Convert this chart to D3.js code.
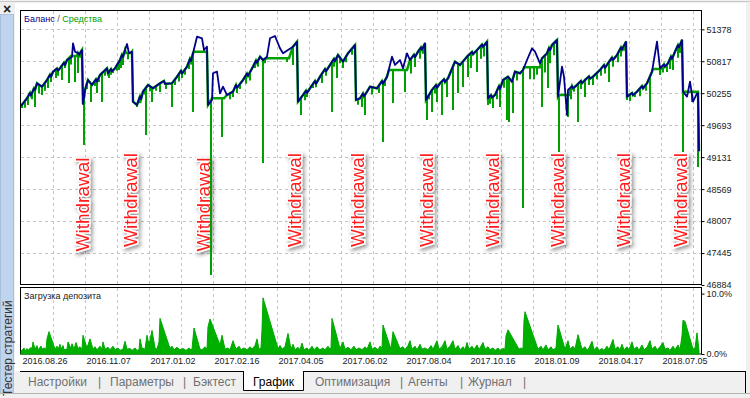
<!DOCTYPE html>
<html>
<head>
<meta charset="utf-8">
<script src="https://cdnjs.cloudflare.com/ajax/libs/d3/7.8.5/d3.min.js"></script>
<style>
body { margin: 0; background: #f0f0f0; }
svg { display: block; font-family: "Liberation Sans", Arial, sans-serif; }
</style>
</head>
<body>
<div id="chart"></div>
<script>
// deal index / balance value
var balance = [
  [0,50030],[6,50165],[9,50260],[10,50215],[13,50340],[14,50310],[16,50429],[21,50369],[26,50487],[29,50580],[30,50545],[32,50633],[36,50690],[37,50650],[39,50693],[43,50790],[44,50750],[46,50838],[51,50896],[52,51132],[54,50984],[57,50960],[58,50930],[61,51014],
  [62,50065],[64,50311],[67,50487],[71,50399],[75,50500],[76,50460],[79,50575],[86,50693],[87,50605],[90,50680],[91,50640],[94,50693],[99,50838],[101,50930],[102,50890],[104,51014],[106,51120],[108,50956],[111,50984],
  [112,50106],[116,50048],[119,50200],[120,50150],[122,50282],[127,50399],[132,50341],[139,50429],[143,50470],[144,50420],[151,50429],[156,50545],[160,50650],[161,50600],[166,50721],[169,50860],[170,50820],[172,50956],[176,51248],[181,51220],[183,51014],[186,51072],
  [187,50048],[191,50136],[192,50605],[196,50633],[199,50253],[202,50369],[206,50223],[212,50282],[215,50400],[216,50350],[222,50487],[226,50600],[227,50560],[232,50721],[235,50830],[236,50790],[239,50896],[242,50838],[246,50896],[249,51220],[254,51260],[259,51044],[262,50956],[272,51072],[276,51160],
  [277,50106],[282,50223],[285,50300],[286,50260],[289,50341],[294,50470],[295,50420],[299,50545],[304,50680],[305,50640],[309,50751],[313,50860],[314,50820],[317,50927],[322,50809],[327,50956],[334,51102],
  [335,50136],[339,50165],[342,50250],[343,50200],[346,50282],[349,50369],[356,50341],[361,50470],[362,50420],[366,50545],[371,50896],[374,50751],[379,50838],[382,50693],[386,50956],[389,50838],[393,50930],[394,50890],[397,50984],[400,51060],[401,51020],[404,51132],
  [405,50136],[411,50311],[415,50400],[416,50350],[419,50429],[423,50500],[424,50450],[427,50517],[434,50809],[439,50751],[446,50896],[451,50980],[452,50940],[456,51014],[461,51110],[462,51070],[466,51160],
  [467,50165],[470,50220],[471,50180],[474,50223],[478,50380],[479,50330],[482,50487],[487,50545],[491,50457],[494,50633],[499,50605],[502,50663],[506,50838],[511,51044],[514,50984],[519,50781],[521,50868],[526,50956],[528,51050],[529,51010],[531,51102],[536,51190],
  [537,50194],[541,50721],[543,50545],[546,49872],[547,50311],[551,50380],[552,50340],[556,50399],[560,50470],[561,50430],[564,50487],[568,50550],[569,50510],[572,50545],[579,50663],[583,50750],[584,50700],[587,50781],[591,50880],[592,50840],[596,50927],[600,51060],[601,51020],[605,51160],
  [606,50194],[611,50260],[612,50220],[616,50282],[621,50380],[622,50340],[626,50429],[631,50633],[636,51160],[639,50693],[643,50760],[644,50720],[647,50781],[650,50900],[651,50860],[654,50984],[657,51100],[658,51060],[661,51190],
  [662,50282],[666,50194],[669,50457],[672,50106],[676,50253],[677,50253],[678,49233]
];

// sections where equity stays flat under balance: [from, to, level]
var equityFlat = [
  [50,56,50909],[105,110,50960],[173,186,50984],[191,203,50165],[246,268,50869],
  [368,386,50663],[503,519,50710],[538,548,50223],[632,640,50680],[663,677,50282]
];

// equity drawdowns: [deal, lowest equity]
var equityDips = [
  [1,49995],[4,50000],[7,50048],[11,50150],[14,50012],[18,50250],[21,50223],[24,50300],[27,50346],[30,50450],[35,50520],[37,50560],[41,50487],[44,50700],
  [48,50434],[50,50760],[54,50452],[57,50610],[59,50880],[63,49345],[66,50330],[70,50100],[74,50380],[76,50259],[78,50450],[81,50100],[84,50560],
  [88,50522],[90,50580],[92,50610],[96,50650],[98,50663],[100,50700],[102,50751],[107,50850],[116,50012],[119,50080],[124,50230],[125,49520],[129,50290],
  [131,50100],[135,50300],[139,50276],[145,50330],[151,50012],[154,50399],[158,50460],[161,50520],[164,50580],[168,50680],[170,50760],[172,49925],[190,47060],
  [201,49485],[209,50150],[212,50188],[216,50260],[219,50330],[225,50420],[229,50480],[234,50698],[237,50720],[242,49028],[244,50780],[266,50803],[272,50751],
  [280,49872],[284,50130],[286,50188],[292,50346],[295,50360],[301,50434],[305,50560],[311,49925],[313,50720],[316,50522],[319,50780],[322,50698],[325,50800],[331,50930],
  [337,50050],[341,50012],[344,49872],[351,50230],[358,50260],[362,49397],[364,50380],[372,50083],[384,50276],[390,50600],[394,50716],[399,50860],[402,50950],
  [406,49784],[408,50150],[411,49925],[414,50250],[416,50100],[421,49872],[426,50188],[432,49960],[437,50259],[442,50364],[447,50540],[450,50700],[456,50628],
  [460,50860],[463,50900],[467,50048],[469,50070],[472,49995],[476,50150],[479,50012],[483,50350],[486,49784],[488,49749],[492,49907],[496,50480],
  [502,48237],[509,50500],[513,50500],[516,50580],[521,50012],[524,50620],[527,50346],[529,50780],[533,50920],[538,49222],[547,49837],[550,50150],[553,50280],
  [557,49749],[560,50330],[564,50188],[568,50400],[572,50399],[576,50500],[580,50560],[584,50600],[588,50452],[592,50720],[597,50800],[600,50900],[603,51000],
  [606,50136],[609,50120],[614,50188],[619,50200],[622,50364],[625,50300],[629,49925],[639,50575],[642,50620],[646,50628],[649,50680],[652,50663],[657,50880],[659,50960],
  [662,49222],[671,50100],[677,48958]
];

var withdrawalDeals = [61,109,182,273,336,405,471,536,602,659];
var withdrawalLevel = [48299,48378,48299,48378,48378,48378,48378,48378,48378,48378];

// deposit load, %
var load = [
  [0,0.5],[1,0.6],[3,1.0],[4,0.5],[6,0.9],[7,0.6],[10,1.1],[11,0.6],[12,2.0],[14,0.8],[16,1.4],[17,0.7],[20,1.3],[21,0.8],[23,1.0],[25,0.8],[26,2.5],[28,3.7],
  [34,0.8],[36,1.3],[37,0.7],[39,1.6],[40,0.8],[42,1.4],[43,0.7],[46,0.8],[47,2.0],[50,0.9],[51,1.7],[53,0.8],[55,1.9],[57,0.9],[59,1.2],[61,0.8],[62,3.1],
  [66,1.0],[69,2.5],[72,0.8],[74,1.2],[76,0.7],[79,1.3],[81,0.8],[82,2.0],[84,0.8],[87,1.1],[89,0.7],[92,1.3],[94,0.7],[97,1.0],[99,0.6],[102,0.8],[104,2.1],
  [106,0.8],[109,0.9],[111,0.6],[114,1.0],[116,0.6],[118,0.7],[119,2.5],[121,1.0],[124,0.8],[126,3.1],[128,1.5],[131,3.9],[134,1.0],[136,0.8],[138,2.0],[139,5.9],
  [149,0.9],[151,1.3],[153,0.7],[156,1.1],[159,0.7],[162,0.9],[165,0.6],[168,1.0],[170,0.7],[171,0.8],[173,4.3],[179,0.8],[181,0.7],[184,1.2],[186,0.8],[187,4.5],[189,5.8],
  [199,1.5],[201,3.1],[204,0.8],[207,1.0],[209,0.7],[212,2.2],[215,0.8],[218,1.3],[220,0.7],[223,1.0],[226,0.7],[229,1.2],[231,0.8],[234,1.4],[236,2.5],[238,0.8],[240,1.0],[241,4.0],[242,9.3],
  [257,0.9],[259,1.4],[261,0.8],[264,1.2],[267,3.4],[270,0.8],[272,1.6],[274,0.7],[277,1.1],[279,0.7],[281,1.8],[283,0.7],[286,1.0],[288,0.6],[291,1.3],[293,0.7],[296,1.2],[299,0.7],
  [302,1.0],[304,0.7],[307,1.3],[309,0.8],[310,1.0],[311,5.9],[319,0.9],[322,2.0],[324,0.8],[327,1.1],[330,0.7],[333,1.3],[335,0.7],[338,1.0],[341,0.7],[344,1.2],[346,0.8],[349,2.0],
  [351,0.8],[354,1.1],[357,0.7],[359,1.3],[361,1.0],[362,4.8],[370,0.8],[372,3.7],[379,0.9],[382,1.2],[384,0.7],[387,1.4],[389,2.2],[391,0.8],[394,1.3],[396,0.7],[399,1.6],
  [401,0.8],[404,1.0],[407,0.7],[410,1.4],[412,0.8],[416,2.2],[418,0.8],[421,1.2],[424,2.2],[426,0.8],[429,1.3],[432,2.2],[434,0.8],[437,1.4],[439,0.7],[442,1.2],[444,0.7],[446,1.9],
  [448,0.8],[451,1.3],[453,0.7],[456,1.5],[458,0.7],[462,1.9],[464,0.8],[467,1.2],[469,0.7],[472,1.0],[474,0.6],[477,1.0],[479,0.6],[482,0.9],[484,0.8],[485,3.0],[487,4.0],
  [498,0.8],[500,1.0],[502,0.8],[503,5.5],[504,7.0],[517,0.8],[520,1.3],[522,0.7],[525,1.5],[527,0.7],[530,1.2],[532,0.7],[535,1.0],[536,3.0],[537,4.8],[544,0.8],[547,2.2],[549,0.8],
  [552,1.3],[554,0.8],[557,3.2],[561,0.8],[564,1.2],[566,0.6],[568,1.0],[571,2.1],[573,0.7],[576,1.2],[578,0.6],[581,0.9],[583,0.6],[586,1.3],[588,0.7],[592,2.4],[594,0.8],[597,1.2],
  [599,0.7],[601,1.6],[603,0.7],[606,1.2],[608,0.7],[611,2.0],[613,0.8],[616,1.2],[618,0.6],[621,1.5],[623,0.7],[626,1.1],[629,2.2],[631,0.8],[634,1.3],[636,0.7],[639,1.2],[642,1.9],
  [644,0.8],[647,1.0],[649,0.6],[652,1.3],[654,0.7],[657,1.5],[659,0.7],[661,3.0],[662,5.6],[664,5.4],[672,0.8],[674,1.0],[676,3.5],[678,0.5]
];

var yTicks = [51378, 50817, 50255, 49693, 49131, 48569, 48007, 47445, 46884];
var loadTicks = [0, 10];
var dateDeals = [0, 64, 128, 192, 256, 320, 384, 448, 512, 576, 640];
var dateLabels = ["2016.08.26","2016.11.07","2017.01.02","2017.02.16","2017.04.05","2017.06.02","2017.08.04","2017.10.16","2018.01.09","2018.04.17","2018.07.05"];
var tabs = ["Настройки","|","Параметры","|","Бэктест","График","Оптимизация","|","Агенты","|","Журнал","|"];
var tabX = [28, 98, 110, 183, 193, 253, 315, 400, 408, 460, 468, 523];

var W = 750, H = 398;
var svg = d3.select("#chart").append("svg").attr("width", W).attr("height", H);

// window chrome
svg.append("rect").attr("width", W).attr("height", H).attr("fill", "#f0f0f0");
svg.append("rect").attr("x", 15).attr("y", 3).attr("width", 731).attr("height", 368).attr("fill", "#fff");
svg.append("line").attr("x1", 0).attr("x2", W).attr("y1", 1.5).attr("y2", 1.5).attr("stroke", "#c8c8c8");
svg.append("rect").attr("x", 0.5).attr("y", 14.5).attr("width", 13).attr("height", 379).attr("fill", "#bfd4ed").attr("stroke", "#a9c0dc");
svg.append("text").text("×").attr("x", 7).attr("y", 14).attr("text-anchor", "middle").attr("font-size", 14).attr("font-weight", "bold").attr("fill", "#222");
svg.append("text").text("Тестер стратегий").attr("transform", "translate(11.5,396) rotate(-90)").attr("font-size", 12).attr("fill", "#333");

var x = d3.scaleLinear().domain([0, 680]).range([21, 701]);
var y = d3.scaleLinear().domain([46884, 51378]).range([285, 29.3]);
var yLoad = d3.scaleLinear().domain([0, 10]).range([354, 293.6]);
var gridDeals = d3.range(32, 680, 32);

var defs = svg.append("defs");
defs.append("clipPath").attr("id", "clipMain").append("rect").attr("x", 21).attr("y", 11).attr("width", 680).attr("height", 273);
var f = defs.append("filter").attr("id", "shadow").attr("x", "-20%").attr("y", "-10%").attr("width", "160%").attr("height", "120%");
f.append("feGaussianBlur").attr("in", "SourceAlpha").attr("stdDeviation", 2).attr("result", "b");
f.append("feOffset").attr("in", "b").attr("dx", 2).attr("dy", 2).attr("result", "o");
f.append("feComponentTransfer").attr("in", "o").attr("result", "s").append("feFuncA").attr("type", "linear").attr("slope", 0.45);
var fm = f.append("feMerge");
fm.append("feMergeNode").attr("in", "s");
fm.append("feMergeNode").attr("in", "SourceGraphic");

// main panel
svg.append("rect").attr("x", 20.5).attr("y", 10.5).attr("width", 681).attr("height", 274).attr("fill", "#fff").attr("stroke", "#000");

svg.append("g").selectAll("line").data(gridDeals).join("line")
  .attr("x1", d => Math.round(x(d)) + 0.5).attr("x2", d => Math.round(x(d)) + 0.5)
  .attr("y1", 11).attr("y2", 284)
  .attr("stroke", "#c4c4c4").attr("stroke-dasharray", "3,3");
svg.append("g").selectAll("line").data(yTicks.slice(0, -1)).join("line")
  .attr("x1", 21).attr("x2", 701)
  .attr("y1", d => Math.round(y(d)) + 0.5).attr("y2", d => Math.round(y(d)) + 0.5)
  .attr("stroke", "#c4c4c4").attr("stroke-dasharray", "3,3");

// withdrawal labels
svg.append("g").attr("filter", "url(#shadow)").selectAll("text").data(withdrawalDeals).join("text")
  .text("Withdrawal")
  .attr("transform", (d, i) => "translate(" + x(d) + "," + y(withdrawalLevel[i]) + ") rotate(-90)")
  .attr("text-anchor", "middle").attr("dy", "0.36em")
  .attr("font-size", 19).attr("fill", "#ff1a1a")
  .attr("stroke", "#fff").attr("stroke-width", 3).attr("paint-order", "stroke");

// equity line
var eqPts = balance.map(function (p) {
  var s = equityFlat.find(f => p[0] >= f[0] && p[0] <= f[1]);
  return s ? [p[0], s[2]] : p;
});
equityFlat.forEach(function (s) { eqPts.push([s[0], s[2]]); eqPts.push([s[1], s[2]]); });
eqPts.sort((a, b) => a[0] - b[0]);
var bis = d3.bisector(p => p[0]).left;
function equityAt(d) {
  var i = bis(eqPts, d);
  if (i <= 0) return eqPts[0][1];
  if (i >= eqPts.length) return eqPts[eqPts.length - 1][1];
  var a = eqPts[i - 1], b = eqPts[i];
  if (b[0] === a[0]) return b[1];
  return a[1] + (b[1] - a[1]) * (d - a[0]) / (b[0] - a[0]);
}

var line = d3.line().x(d => x(d[0])).y(d => y(d[1]));
var plot = svg.append("g").attr("clip-path", "url(#clipMain)");
plot.append("path").datum(eqPts).attr("d", line).attr("fill", "none").attr("stroke", "#00a000").attr("stroke-width", 2.5);
plot.append("g").selectAll("line").data(equityDips).join("line")
  .attr("x1", d => x(d[0])).attr("x2", d => x(d[0]))
  .attr("y1", d => y(equityAt(d[0]))).attr("y2", d => y(d[1]))
  .attr("stroke", "#00a000").attr("stroke-width", 2);
plot.append("path").datum(balance).attr("d", line).attr("fill", "none").attr("stroke", "#00008b").attr("stroke-width", 1.8).attr("stroke-linejoin", "round");

var title = svg.append("text").attr("x", 24).attr("y", 21.5).attr("font-size", 9);
title.append("tspan").text("Баланс").attr("fill", "#00008b");
title.append("tspan").text(" / ").attr("fill", "#555");
title.append("tspan").text("Средства").attr("fill", "#00a000");

var axMain = svg.append("g").attr("transform", "translate(701.5,0)")
  .call(d3.axisRight(y).tickValues(yTicks).tickSize(3).tickPadding(2).tickFormat(d => d));
axMain.select(".domain").remove();
axMain.selectAll("text").attr("font-size", 9).attr("font-family", "Liberation Sans, Arial, sans-serif").attr("fill", "#222");

// deposit load panel
svg.append("rect").attr("x", 20.5).attr("y", 287.5).attr("width", 681).attr("height", 66.5).attr("fill", "#fff").attr("stroke", "#000");
svg.append("g").selectAll("line").data(gridDeals).join("line")
  .attr("x1", d => Math.round(x(d)) + 0.5).attr("x2", d => Math.round(x(d)) + 0.5)
  .attr("y1", 288).attr("y2", 354)
  .attr("stroke", "#c4c4c4").attr("stroke-dasharray", "3,3");
var area = d3.area().x(d => x(d[0])).y0(yLoad(0)).y1(d => yLoad(d[1]));
svg.append("path").datum(load).attr("d", area).attr("fill", "#00b000").attr("stroke", "#00a800").attr("stroke-width", 1);
svg.append("text").text("Загрузка депозита").attr("x", 24).attr("y", 299).attr("font-size", 9).attr("fill", "#222");

var axLoad = svg.append("g").attr("transform", "translate(701.5,0)")
  .call(d3.axisRight(yLoad).tickValues(loadTicks).tickSize(3).tickPadding(2).tickFormat(d => d.toFixed(1) + "%"));
axLoad.select(".domain").remove();
axLoad.selectAll("text").attr("font-size", 9).attr("font-family", "Liberation Sans, Arial, sans-serif").attr("fill", "#222");

var axDate = svg.append("g").attr("transform", "translate(0,354)")
  .call(d3.axisBottom(x).tickValues(dateDeals).tickSize(0).tickPadding(4).tickFormat((d, i) => dateLabels[i]));
axDate.select(".domain").remove();
axDate.selectAll("text").attr("text-anchor", "start").attr("dx", 1).attr("font-size", 9).attr("font-family", "Liberation Sans, Arial, sans-serif").attr("fill", "#222");

// tab strip
svg.append("line").attr("x1", 20).attr("x2", 243).attr("y1", 371.5).attr("y2", 371.5).attr("stroke", "#000");
svg.append("line").attr("x1", 303).attr("x2", 746).attr("y1", 371.5).attr("y2", 371.5).attr("stroke", "#000");
svg.append("rect").attr("x", 243).attr("y", 371).attr("width", 61).attr("height", 20).attr("fill", "#fff");
svg.append("path").attr("d", "M243.5,371V390.5H303.5V371").attr("fill", "none").attr("stroke", "#000");
svg.append("line").attr("x1", 745.5).attr("x2", 745.5).attr("y1", 371).attr("y2", 393).attr("stroke", "#000");
svg.append("line").attr("x1", 0).attr("x2", W).attr("y1", 393.5).attr("y2", 393.5).attr("stroke", "#b4b4b4");
svg.append("g").selectAll("text").data(tabs).join("text")
  .text(d => d).attr("x", (d, i) => tabX[i]).attr("y", 386)
  .attr("font-size", 12).attr("fill", d => d === "График" ? "#000" : "#707070");
</script>
</body>
</html>
